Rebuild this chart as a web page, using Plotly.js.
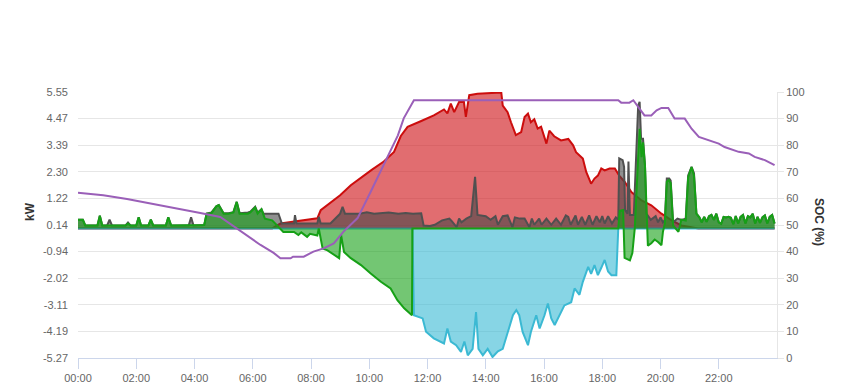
<!DOCTYPE html>
<html>
<head>
<meta charset="utf-8">
<script src="https://cdn.plot.ly/plotly-3.0.1.min.js"></script>
<style>html,body{margin:0;padding:0;background:#fff;}#chart{width:849px;height:390px;}</style>
</head>
<body>
<div id="chart"></div>
<script>
// ---- data (times HH:MM of one day) ----
const pvTimes = ['00:00','06:40','06:57','07:20','07:40','08:00','08:13','08:20','08:40','09:00','09:22','09:45','10:05','10:30','10:51','11:05','11:19','11:46','12:13','12:34','12:41','12:48','12:55','13:05','13:15','13:19','13:26','13:43','14:00','14:25','14:32','14:35','14:45','14:52','15:02','15:13','15:20','15:27','15:33','15:40','15:47','15:54','16:05','16:11','16:21','16:35','16:50','17:00','17:06','17:20','17:27','17:37','17:44','17:51','17:58','18:05','18:15','18:26','18:35','18:46','19:00','19:21','19:41','20:02','20:23','20:43','21:18','23:55'];
const pvValues = [0,0,0.2,0.26,0.3,0.35,0.41,0.74,1.05,1.35,1.76,2.1,2.38,2.72,3.11,3.76,4.13,4.36,4.6,4.84,4.68,5.08,4.73,5.14,5.14,4.54,5.42,5.48,5.5,5.52,5.53,5.0,4.73,4.32,3.8,3.92,4.53,4.67,4.32,4.44,4.06,4.14,3.45,3.98,3.75,3.58,3.64,3.38,3.1,2.84,2.3,1.82,2.03,2.15,2.44,2.36,2.44,2.44,2.15,1.9,1.48,1.14,0.94,0.6,0.33,0.12,0,0];

const feedTimes = ['00:00','11:29','11:32','11:50','11:57','12:13','12:34','12:41','12:48','12:59','13:09','13:16','13:23','13:33','13:40','13:45','13:54','14:04','14:14','14:25','14:35','14:45','14:56','15:03','15:09','15:16','15:27','15:33','15:44','15:51','16:01','16:08','16:15','16:22','16:32','16:42','16:56','17:03','17:13','17:20','17:31','17:37','17:44','17:51','17:58','18:05','18:12','18:19','18:29','18:33','23:55'];
const feedValues = [0,0,-3.53,-3.66,-4.2,-4.47,-4.68,-4.07,-4.6,-4.75,-5.02,-4.6,-5.16,-4.9,-3.4,-4.9,-5.16,-4.9,-5.23,-5.0,-4.9,-4.21,-3.53,-3.32,-3.53,-4.21,-4.75,-4.21,-3.53,-4.07,-3.53,-3.05,-3.66,-3.93,-3.5,-3.13,-3.0,-2.44,-2.7,-2.17,-1.56,-1.85,-1.49,-1.9,-1.6,-1.28,-1.75,-1.9,-1.9,0,0];

const loadTimes = ['00:00','00:10','00:15','00:40','00:45','00:50','01:00','01:05','01:10','01:38','01:43','01:48','02:00','02:05','02:10','02:25','02:30','02:35','03:01','03:06','03:12','03:48','03:53','03:58','04:20','04:25','04:35','04:45','04:50','04:55','05:00','05:10','05:20','05:27','05:33','05:50','05:55','06:05','06:10','06:18','06:22','06:53','06:57','07:00','07:25','07:27','07:30','08:13','08:16','08:20','08:40','09:00','09:05','09:10','09:40','09:55','10:10','10:40','11:00','11:15','11:30','11:47','11:52','12:05','12:15','12:30','12:45','12:50','13:00','13:05','13:10','13:20','13:30','13:38','13:43','14:00','14:10','14:20','14:25','14:35','14:45','14:55','15:00','15:10','15:20','15:30','15:35','15:40','15:50','15:55','16:05','16:15','16:25','16:35','16:45','16:50','16:55','17:05','17:10','17:18','17:25','17:33','17:40','17:48','17:55','18:00','18:05','18:12','18:20','18:28','18:33','18:35','18:42','18:45','18:47','18:52','18:54','18:57','19:05','19:14','19:17','19:20','19:24','19:28','19:31','19:40','19:50','19:55','20:00','20:05','20:09','20:13','20:18','20:21','20:26','20:35','20:43','20:52','20:57','21:04','21:09','21:14','21:20','21:25','21:30','21:35','21:40','21:45','21:50','21:55','22:00','22:05','22:10','22:15','22:20','22:25','22:30','22:35','22:40','22:45','22:50','22:55','23:00','23:05','23:10','23:15','23:20','23:25','23:30','23:35','23:40','23:45','23:50','23:55'];
const loadValues = [0.35,0.35,0.12,0.12,0.52,0.12,0.12,0.36,0.12,0.12,0.24,0.12,0.12,0.45,0.12,0.12,0.36,0.12,0.12,0.45,0.12,0.12,0.45,0.12,0.14,0.6,0.65,0.9,0.95,0.8,0.62,0.62,0.66,1.08,0.62,0.65,0.68,0.88,0.65,0.78,0.6,0.6,0.32,0.2,0.2,0.54,0.2,0.2,0.47,0.2,0.2,0.6,0.88,0.6,0.6,0.66,0.6,0.65,0.6,0.63,0.6,0.62,0.12,0.1,0.15,0.33,0.4,0.3,0.05,0.4,0.25,0.4,0.5,2.1,0.55,0.5,0.35,0.5,0.15,0.5,0.53,0.05,0.45,0.4,0.4,0.05,0.4,0.15,0.4,0.15,0.4,0.15,0.4,0.15,0.53,0.47,0.15,0.53,0.15,0.47,0.15,0.53,0.15,0.5,0.25,0.5,0.2,0.5,0.2,0.45,0.35,2.85,2.78,2.5,0.75,0.6,2.72,0.55,0.55,5.0,5.15,3.65,3.65,2.57,0.6,0.35,0.5,0.25,0.45,0.25,0.35,2.03,2.03,1.95,0.25,0.4,0.35,0.4,2.15,2.5,2.25,0.6,0.45,0.25,0.47,0.27,0.5,0.55,0.35,0.6,0.25,0.19,0.47,0.45,0.47,0.43,0.17,0.5,0.2,0.47,0.55,0.2,0.5,0.45,0.6,0.2,0.47,0.23,0.45,0.53,0.2,0.47,0.55,0.2];

const batTimes = ['00:00','00:10','00:15','00:40','00:45','00:50','01:38','01:43','01:48','02:00','02:05','02:10','02:25','02:30','02:35','03:01','03:06','03:12','04:20','04:25','04:35','04:45','04:50','04:55','05:00','05:10','05:20','05:27','05:33','05:50','05:55','06:05','06:10','06:18','06:25','06:40','06:57','07:03','07:25','07:34','07:40','07:52','07:58','08:13','08:16','08:20','08:24','08:34','08:47','08:58','09:02','09:08','09:22','09:43','10:03','10:24','10:44','10:58','11:12','11:28','11:29','18:33','18:36','18:43','18:46','18:57','19:02','19:07','19:14','19:17','19:21','19:24','19:28','19:31','19:34','19:41','19:48','19:55','20:02','20:05','20:09','20:13','20:17','20:21','20:26','20:37','20:43','20:52','20:57','21:04','21:09','21:14','21:20','21:25','21:30','21:35','21:40','21:45','21:50','21:55','22:00','22:05','22:10','22:15','22:20','22:25','22:30','22:35','22:40','22:45','22:50','22:55','23:00','23:05','23:10','23:15','23:20','23:25','23:30','23:35','23:40','23:45','23:50','23:55'];
const batValues = [0.35,0.35,0.12,0.12,0.52,0.12,0.12,0.2,0.12,0.12,0.45,0.12,0.12,0.36,0.12,0.12,0.45,0.12,0.14,0.6,0.62,0.9,0.95,0.8,0.6,0.6,0.65,1.08,0.6,0.6,0.65,0.86,0.6,0.78,0.4,0.33,0,-0.14,-0.14,-0.27,-0.16,-0.34,-0.22,-0.29,0,-0.41,-0.82,-0.89,-1.08,-1.21,-0.27,-0.96,-1.21,-1.49,-1.83,-2.17,-2.44,-2.92,-3.25,-3.53,0,0,0.72,0.75,-1.2,-1.3,-1.0,0,2.9,4.05,2.9,3.5,2.57,1.08,-0.7,-0.6,-0.45,-0.55,-0.68,-0.14,0.2,1.9,1.97,1.85,0.12,-0.14,0.36,0.32,2.08,2.5,2.15,0.6,0.45,0.25,0.47,0.27,0.5,0.55,0.35,0.6,0.25,0.19,0.47,0.45,0.47,0.43,0.17,0.5,0.2,0.47,0.55,0.2,0.5,0.45,0.6,0.2,0.47,0.23,0.45,0.53,0.2,0.47,0.55,0.2];

const socTimes = ['00:00','00:52','01:41','02:29','03:16','04:12','04:53','05:20','05:49','06:16','06:43','06:57','07:18','07:23','07:45','08:05','08:26','08:47','09:07','09:36','10:03','10:30','10:59','11:11','11:32','18:33','18:39','18:56','19:04','19:27','19:41','19:52','20:02','20:16','20:29','20:50','21:04','21:19','21:39','22:00','22:12','22:41','23:02','23:14','23:35','23:45','23:55'];
const socValues = [62.1,61.2,59.8,58.2,56.5,54.5,53,49.6,46.2,42.5,39.5,37.5,37.5,38.1,38.1,40,41.2,43.1,47.5,52.6,62.5,72.5,83.7,90.1,96.9,96.9,96,96,96.9,91.2,91.2,93.1,94,94,90,90,86.2,83.1,81.9,80.6,79.3,77.5,76.9,75.6,74.4,73.4,72.5];

const kwTicks = [5.55, 4.47, 3.39, 2.30, 1.22, 0.14, -0.94, -2.02, -3.11, -4.19, -5.27];
const hourTicks = ['00:00','02:00','04:00','06:00','08:00','10:00','12:00','14:00','16:00','18:00','20:00','22:00'];

// ---- build ----
const DAY = '2024-01-01 ';
const T = arr => arr.map(t => DAY + t);

function area(times, vals, line, fill, yaxis) {
  return {
    x: T(times), y: vals, type: 'scatter', mode: 'lines',
    fill: 'tozeroy', fillcolor: fill,
    line: {color: line, width: 2}, hoverinfo: 'skip', yaxis: yaxis || 'y'
  };
}

const traces = [
  area(pvTimes, pvValues, '#cc0d0d', 'rgba(207,20,25,0.62)'),
  area(feedTimes, feedValues, '#3bb9d3', 'rgba(55,185,212,0.6)'),
  area(loadTimes, loadValues, '#505050', 'rgba(70,70,70,0.6)'),
  area(batTimes, batValues, '#16a016', 'rgba(22,160,22,0.6)'),
  {x: T(socTimes), y: socValues, type: 'scatter', mode: 'lines', yaxis: 'y2',
   line: {color: '#9a5fb8', width: 2}, hoverinfo: 'skip'}
];

const tickFont = {family: 'Liberation Sans, Arial, sans-serif', size: 11, color: '#666666'};

const layout = {
  width: 849, height: 390,
  margin: {l: 78, r: 72, t: 92, b: 32, pad: 0},
  paper_bgcolor: '#ffffff', plot_bgcolor: '#ffffff',
  showlegend: false,
  font: {family: 'Liberation Sans, Arial, sans-serif'},
  xaxis: {
    type: 'date', range: [DAY + '00:00', '2024-01-02 00:00'],
    tickvals: T(hourTicks), ticktext: hourTicks,
    ticks: 'outside', ticklen: 10, tickcolor: '#ccd6eb', tickwidth: 1,
    showline: true, linecolor: '#ccd6eb', linewidth: 1,
    showgrid: false, zeroline: false, tickfont: tickFont
  },
  yaxis: {
    range: [kwTicks[kwTicks.length - 1], kwTicks[0]],
    tickvals: kwTicks, ticktext: kwTicks.map(v => v.toFixed(2)),
    showgrid: true, gridcolor: '#e6e6e6', gridwidth: 1,
    zeroline: false, showline: false, ticks: '',
    ticklabelstandoff: 9, tickfont: tickFont
  },
  yaxis2: {
    overlaying: 'y', side: 'right', range: [0, 100], dtick: 10, tick0: 0,
    showgrid: false, zeroline: false,
    showline: true, linecolor: '#e6e6e6', linewidth: 1,
    ticks: 'outside', ticklen: 6, tickcolor: '#e6e6e6',
    tickfont: tickFont
  },
  annotations: [
    {text: '<b>kW</b>', xref: 'paper', yref: 'paper', x: 0, y: 0.5, xshift: -57, yshift: 13,
     showarrow: false, textangle: -90, font: {size: 12, color: '#333333', family: 'Liberation Sans, Arial, sans-serif'}},
    {text: '<b>SOC (%)</b>', xref: 'paper', yref: 'paper', x: 1, y: 0.5, xshift: 51, yshift: 3,
     showarrow: false, textangle: 90, font: {size: 12, color: '#333333', family: 'Liberation Sans, Arial, sans-serif'}}
  ]
};

Plotly.newPlot('chart', traces, layout, {staticPlot: true, displayModeBar: false});
</script>
</body>
</html>
